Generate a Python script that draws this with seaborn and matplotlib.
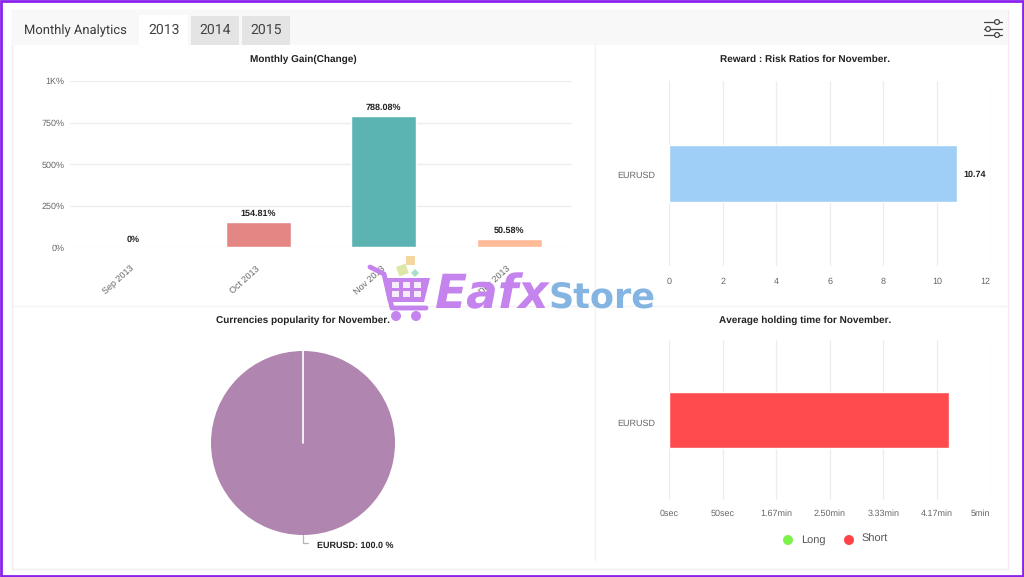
import numpy as np
import pandas as pd
import matplotlib
matplotlib.use("Agg")
import matplotlib.pyplot as plt
from matplotlib.patches import Rectangle, Circle, Polygon
from matplotlib.transforms import ScaledTranslation
import seaborn as sns

# ---- data ----
months = ["Sep 2013", "Oct 2013", "Nov 2013", "Dec 2013"]
gain = [0, 154.81, 788.08, 50.58]
gain_labels = ["0%", "154.81%", "788.08%", "50.58%"]
gain_colors = ["#F0F0F0", "#E48684", "#5BB4B1", "#FFBB98"]
gain_ticks = [0, 250, 500, 750, 1000]
gain_ticklabels = ["0%", "250%", "500%", "750%", "1K%"]
pairs = ["EURUSD"]
reward = [10.74]
reward_ticks = [0, 2, 4, 6, 8, 10, 12]
hold_seconds = [261]
hold_ticks = [0, 50, 100, 150, 200, 250, 300]
hold_ticklabels = ["0sec", "50sec", "1.67min", "2.50min", "3.33min", "4.17min", "5min"]
pie_values = [100.0]
tabs = ["2013", "2014", "2015"]

W, H = 1024, 577
sns.set_theme(style="white")
plt.rcParams["font.family"] = ["Liberation Sans", "DejaVu Sans"]
plt.rcParams["text.hinting"] = "none"
plt.rcParams["text.hinting_factor"] = 1
fig = plt.figure(figsize=(W / 100, H / 100), dpi=100, facecolor="white")

def box(x0, y0, x1, y1, **kw):
    return fig.add_axes([x0 / W, 1 - y1 / H, (x1 - x0) / W, (y1 - y0) / H], **kw)

# pixel-space layer for page furniture
bg = fig.add_axes([0, 0, 1, 1], zorder=0)
bg.set_xlim(0, W); bg.set_ylim(H, 0); bg.axis("off")
bg.add_patch(Rectangle((12, 10), 996, 559, fc="white", ec="#F1ECF1", lw=1))
bg.add_patch(Rectangle((12, 10), 996, 35, fc="#F8F8F8", ec="none"))
bg.add_patch(Rectangle((139, 15), 49, 30, fc="white", ec="none"))
for x0, x1 in [(191, 239), (242, 290)]:
    bg.add_patch(Rectangle((x0, 16), x1 - x0, 29, fc="#E4E4E4", ec="none"))
bg.plot([595, 595], [45, 560], color="#F2F2F2", lw=1)
bg.plot([14, 1006], [306, 306], color="#F2F2F2", lw=1)
bg.text(24, 30.5, "Monthly Analytics", family="Roboto", fontsize=9.7, color="#3A3A3A", va="center")
for t, xc in zip(tabs, [164, 215, 266]):
    bg.text(xc, 30.5, t, family="Roboto", fontsize=10, color="#444444", va="center", ha="center")
# settings icon
for y, xk in [(22, 997), (29, 988), (35, 997)]:
    bg.plot([984, 1002], [y, y], color="#444444", lw=0.9)
    bg.add_patch(Circle((xk, y), 2.4, fc="white", ec="#444444", lw=0.9, zorder=3))
# outer frame
bg.add_patch(Rectangle((1, 1), W - 2, H - 2, fc="none", ec="#8A22EE", lw=2))

def titled(x, y, s):
    bg.text(x, y, s, fontsize=7.5, fontweight="bold", color="#222222", ha="center", va="center")

def shift_labels(labels, dx_px=0, dy_px=0):
    for lab in labels:
        lab.set_transform(lab.get_transform() + ScaledTranslation(dx_px / 100, dy_px / 100, fig.dpi_scale_trans))

TICK = "#666666"
GRID = "#EDEDED"
FS = 6.2
VAL = 6.3

# ---- monthly gain ----
ax1 = box(70, 81, 572, 247.5)
ax1.patch.set_alpha(0)
df1 = pd.DataFrame({"month": months, "gain": gain})
sns.barplot(data=df1, x="month", y="gain", hue="month", palette=gain_colors, legend=False,
            width=0.52, saturation=1, ax=ax1, order=months, zorder=3)
ax1.set_ylim(0, 1000); ax1.set_xlim(-0.5, 3.5)
ax1.set_yticks(gain_ticks, gain_ticklabels, fontsize=FS, color=TICK)
ax1.set_xticks(range(4), months, fontsize=FS, color=TICK, rotation=42, ha="right", rotation_mode="anchor")
ax1.tick_params(axis="y", length=0, pad=4)
ax1.tick_params(axis="x", length=0, pad=12)
ax1.grid(axis="y", color=GRID, lw=0.9); ax1.set_axisbelow(True)
ax1.set(xlabel="", ylabel="")
sns.despine(ax=ax1, left=True, bottom=True)
shift_labels(ax1.get_xticklabels(), dx_px=-3)
for i, (v, s) in enumerate(zip(gain, gain_labels)):
    ax1.annotate(s, (i, v), xytext=(0, 3), textcoords="offset points", ha="center", va="bottom",
                 fontsize=VAL, fontweight="bold", color="#222222")
titled(303, 59, "Monthly Gain(Change)")

# ---- reward : risk ----
ax2 = box(669.3, 81, 990.5, 266)
ax2.patch.set_alpha(0)
df2 = pd.DataFrame({"pair": pairs, "ratio": reward})
sns.barplot(data=df2, y="pair", x="ratio", color="#9FCFF6", width=0.305, saturation=1, ax=ax2, zorder=3)
ax2.set_xlim(0, 12); ax2.set_ylim(0.5, -0.5)
ax2.set_xticks(reward_ticks, [str(t) for t in reward_ticks], fontsize=FS, color=TICK)
ax2.get_xticklabels()[-1].set_ha("right")
ax2.tick_params(axis="both", length=0, labelsize=FS, labelcolor=TICK)
ax2.tick_params(axis="x", pad=8); ax2.tick_params(axis="y", pad=10)
ax2.grid(axis="x", color=GRID, lw=0.9); ax2.set_axisbelow(True)
ax2.set(xlabel="", ylabel="")
sns.despine(ax=ax2, left=True, bottom=True)
shift_labels(ax2.get_yticklabels(), dy_px=-1.5)
ax2.annotate(f"{reward[0]}", (reward[0], 0), xytext=(4.5, -1), textcoords="offset points",
             va="center", fontsize=VAL, fontweight="bold", color="#222222")
titled(805, 59, "Reward : Risk Ratios for November.")

# ---- pie ----
ax3 = box(211, 351, 395, 535)
ax3.pie(pie_values, colors=["#B085B0"], startangle=90, radius=1.0,
        wedgeprops=dict(edgecolor="none"))
ax3.set_xlim(-1, 1); ax3.set_ylim(-1, 1)
ax3.plot([0, 0], [0, 1], color="white", lw=1.2)
bg.plot([302.5, 302.5, 308], [535, 543, 543], color="#B5B5B5", lw=0.9)
bg.text(317, 545.5, "EURUSD: 100.0 %", fontsize=VAL, fontweight="bold", color="#222222", va="center")
titled(303, 320, "Currencies popularity for November.")

# ---- holding time ----
ax4 = box(669.3, 340, 990.5, 500)
ax4.patch.set_alpha(0)
df4 = pd.DataFrame({"pair": pairs, "seconds": hold_seconds})
sns.barplot(data=df4, y="pair", x="seconds", color="#FF4A4E", width=0.356, saturation=1, ax=ax4, zorder=3)
ax4.set_xlim(0, 300); ax4.set_ylim(0.5, -0.5)
ax4.set_xticks(hold_ticks, hold_ticklabels, fontsize=FS, color=TICK)
ax4.get_xticklabels()[-1].set_ha("right")
ax4.tick_params(axis="both", length=0, labelsize=FS, labelcolor=TICK)
ax4.tick_params(axis="x", pad=7); ax4.tick_params(axis="y", pad=10)
ax4.grid(axis="x", color=GRID, lw=0.9); ax4.set_axisbelow(True)
ax4.set(xlabel="", ylabel="")
sns.despine(ax=ax4, left=True, bottom=True)
shift_labels(ax4.get_yticklabels(), dy_px=-2.5)
titled(805, 320, "Average holding time for November.")
for xc, col, s in [(788, "#7CF24B", "Long"), (849, "#FF4248", "Short")]:
    bg.add_patch(Circle((xc, 540), 5, fc=col, ec="none"))
    bg.text(xc + 13, 539.5, s, fontsize=7.8, color="#555555", va="center")

# ---- watermark ----
top = fig.add_axes([0, 0, 1, 1], zorder=10)
top.set_xlim(0, W); top.set_ylim(H, 0); top.axis("off"); top.patch.set_alpha(0)
P = "#C583EE"; B = "#84B4E2"
top.plot([370, 384, 392, 426], [267, 274, 308, 308], color=P, lw=3.5, solid_capstyle="round", solid_joinstyle="round")
top.add_patch(Polygon([[383, 278], [430, 278], [424, 302], [388, 302]], fc=P, ec="none"))
for x in [392, 403, 414]:
    for y in [282, 291]:
        top.add_patch(Rectangle((x, y), 7, 6, fc="white", ec="none", alpha=0.85))
top.add_patch(Circle((396, 316), 5, fc=P, ec="none"))
top.add_patch(Circle((416, 316), 5, fc=P, ec="none"))
top.add_patch(Rectangle((406, 256), 9, 9, fc="#F5D5A0", ec="none"))
top.add_patch(Rectangle((396, 267), 10, 10, angle=-20, fc="#DDE8A8", ec="none"))
top.add_patch(Polygon([[415, 269], [419, 273], [415, 277], [411, 273]], fc="#A8E0C8", ec="none"))
top.text(434, 295, "Eafx", family="DejaVu Sans", fontsize=34, fontweight="bold", style="italic", color=P, va="center")
top.text(548, 299, "Store", family="DejaVu Sans", fontsize=25, fontweight="bold", color=B, va="center")

fig.savefig("out.png", dpi=100)
